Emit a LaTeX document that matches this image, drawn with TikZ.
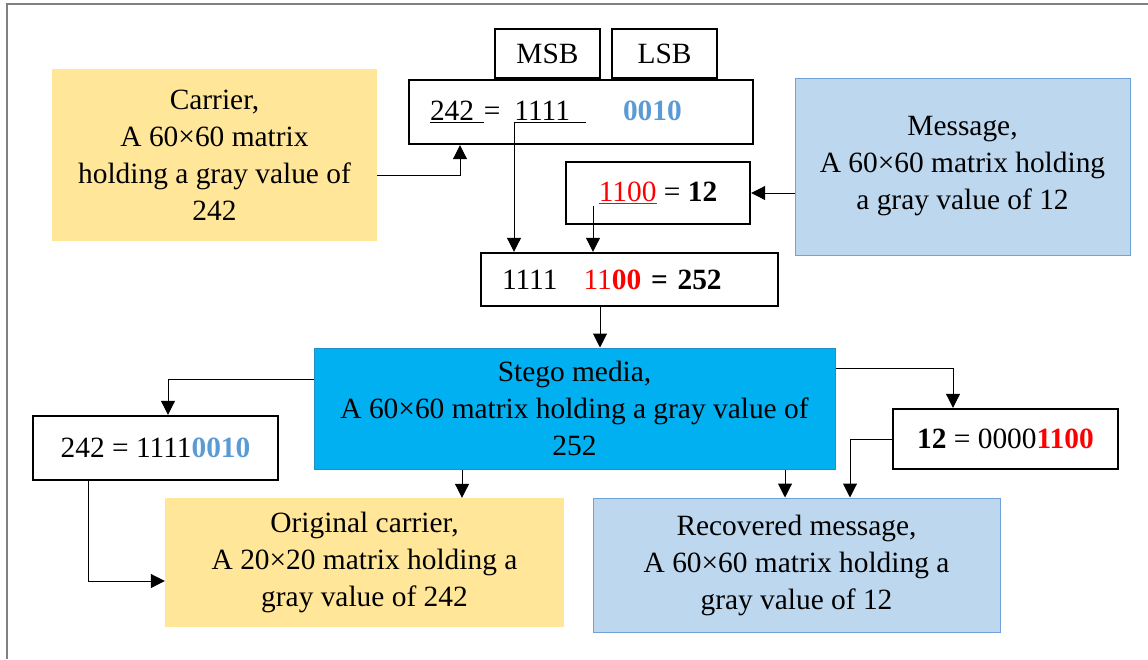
\documentclass[tikz,border=0pt]{standalone}
\usepackage{fontspec}
\setmainfont{Liberation Serif}
\usepackage{xcolor}
\usepackage{tikz}
\usetikzlibrary{positioning}
\usetikzlibrary{calc}
\usetikzlibrary{arrows.meta}

\definecolor{carrierfill}{HTML}{FFE699}
\definecolor{msgfill}{HTML}{BDD7EE}
\definecolor{msgline}{HTML}{6FA3D8}
\definecolor{stegofill}{HTML}{00B0F0}
\definecolor{stegoline}{HTML}{1E90C8}
\definecolor{lsbblue}{HTML}{5B9BD5}

\begin{document}
\begin{tikzpicture}
    [%%%%%%%%%%%%%%%%%%%%%%%%%%%%%%
        x=1pt, y=-1pt,
        font=\fontsize{29.4}{37}\selectfont,
        bitbox/.style={rectangle,draw=black,line width=2.4pt,inner sep=0pt},
        carrierbox/.style={rectangle,fill=carrierfill,align=center,inner sep=0pt},
        msgbox/.style={rectangle,fill=msgfill,draw=msgline,line width=1pt,align=center,inner sep=0pt},
        stegobox/.style={rectangle,fill=stegofill,draw=stegoline,line width=1pt,align=center,inner sep=0pt},
        arr/.style={-{Triangle[length=14pt,width=14pt]},line width=1pt}
    ]%%%%%%%%%%%%%%%%%%%%%%%%%%%%%%

\useasboundingbox (0,0) rectangle (1148,659);
\draw[gray,line width=1.2pt] (7,659) -- (7,4) -- (1148,4);

% carrier side
\node[carrierbox,minimum width=325pt,minimum height=172pt] (carrier) at (214.5,155)
    {Carrier,\\ A 60×60 matrix\\ holding a gray value of\\ 242};
\node[bitbox,minimum width=105pt,minimum height=49pt] (msb) at (547.5,53.5) {MSB};
\node[bitbox,minimum width=105pt,minimum height=49pt] (lsb) at (664.5,53.5) {LSB};
\node[bitbox,minimum width=344pt,minimum height=64pt,text width=302pt,inner xsep=21pt,align=left] (cover) at (581,112)
    {\underline{242 }=\hspace{14pt}\underline{1111\hspace{16pt}}\hspace{37pt}{\color{lsbblue}\bfseries 0010}};

% message side
\node[msgbox,minimum width=335pt,minimum height=177pt] (message) at (962.5,166.5)
    {Message,\\ A 60×60 matrix holding\\ a gray value of 12};
\node[bitbox,minimum width=184pt,minimum height=62pt] (secret) at (658,193)
    {{\color{red}\underline{1100}} = \textbf{12}};

% embedding
\node[bitbox,minimum width=297pt,minimum height=53pt,text width=255pt,inner xsep=21pt,align=left] (embed) at (629.5,279.5)
    {1111\hspace{26pt}{\color{red}11\textbf{00}}\textbf{ = 252}};
\node[stegobox,minimum width=521pt,minimum height=121pt] (stego) at (574.5,408.5)
    {Stego media,\\ A 60×60 matrix holding a gray value of\\ 252};

% extraction
\node[bitbox,minimum width=245pt,minimum height=64pt] (extcover) at (155.5,448)
    {242 = 1111{\color{lsbblue}\bfseries 0010}};
\node[bitbox,minimum width=225pt,minimum height=60pt] (extmsg) at (1005.5,439)
    {\textbf{12} = 0000{\color{red}\bfseries 1100}};
\node[carrierbox,minimum width=399pt,minimum height=129pt] (orig) at (364.5,562.5)
    {Original carrier,\\ A 20×20 matrix holding a\\ gray value of 242};
\node[msgbox,minimum width=407pt,minimum height=134pt] (recov) at (796.5,565)
    {Recovered message,\\ A 60×60 matrix holding a\\ gray value of 12};

\coordinate (msbtap) at (514,123);
\coordinate (lsbtap) at (593,206);

% connectors
\draw[arr] ([yshift=-20pt]carrier.east) -| ([xshift=-121pt]cover.south);
\draw[arr] (message.west |- secret.east) -- (secret.east);
\draw[arr] (msbtap) -- (msbtap |- embed.north);
\draw[arr] (lsbtap) -- (lsbtap |- embed.north);
\draw[arr] ([xshift=-29.5pt]embed.south) -- ([xshift=-29.5pt]embed.south |- stego.north);
\draw[arr] ([yshift=29.5pt]stego.west) -| ([xshift=12.5pt]extcover.north);
\draw[arr] ([xshift=-67.5pt]extcover.south) |- ([yshift=-18.5pt]orig.west);
\draw[arr] ([xshift=-112.5pt]stego.south) -- ([xshift=-112.5pt]stego.south |- orig.north);
\draw[arr] ([yshift=40.5pt]stego.east) -| ([xshift=-52.5pt]extmsg.north);
\draw[arr] (extmsg.west) -| ([xshift=53.5pt]recov.north);
\draw[arr] ([xshift=210.5pt]stego.south) -- ([xshift=210.5pt]stego.south |- recov.north);

\end{tikzpicture}
\end{document}
